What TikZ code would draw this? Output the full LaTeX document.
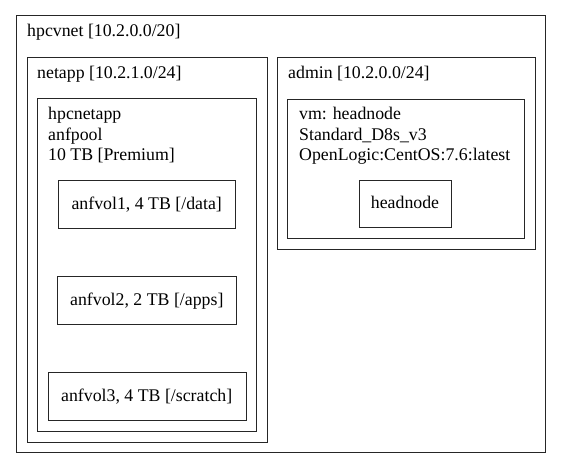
\documentclass[tikz,border=0pt]{standalone}
\usepackage{fontspec}
\setmainfont{Liberation Serif}
\begin{document}
\begin{tikzpicture}[x=1pt,y=-1pt,
  box/.style={draw=black!85,line width=1pt,rectangle,inner sep=0pt,anchor=north west},
  lbl/.style={inner sep=0pt,anchor=base west,font=\fontsize{17.8}{20.5}\selectfont,align=left},
  clbl/.style={inner sep=0pt,anchor=base,font=\fontsize{17.8}{20.5}\selectfont}]
\useasboundingbox (0,0) rectangle (561,468);
\fill[white] (0,0) rectangle (561,468);
% containers
\node[box,minimum width=529.3pt,minimum height=436.7pt] (hpcvnet) at (15.7,15) {};
\node[box,minimum width=240pt,minimum height=384.4pt] (netapp) at (26.7,57.3) {};
\node[box,minimum width=219.3pt,minimum height=332.7pt] (pool) at (36.7,98.3) {};
\node[box,minimum width=257.7pt,minimum height=192.3pt] (admin) at (277.3,56.7) {};
\node[box,minimum width=236.7pt,minimum height=139.3pt] (vm) at (287.3,99) {};
% leaf boxes
\node[box,minimum width=176.7pt,minimum height=47.7pt] (vol1) at (58.3,180) {};
\node[box,minimum width=179pt,minimum height=48.3pt] (vol2) at (57.3,275.7) {};
\node[box,minimum width=198pt,minimum height=48.3pt] (vol3) at (47.7,371.7) {};
\node[box,minimum width=91.4pt,minimum height=47.3pt] (head) at (359.3,180) {};
% labels
\node[lbl] (thpcvnet) at (27,37) {hpcvnet [10.2.0.0/20]};
\node[lbl] (tnetapp) at (37,79) {netapp [10.2.1.0/24]};
\node[lbl] (tpool1) at (48,119.5) {hpcnetapp};
\node[lbl] (tpool2) at (48,140) {anfpool};
\node[lbl] (tpool3) at (48,160.5) {10 TB [Premium]};
\node[lbl] (tadmin) at (288,79) {admin [10.2.0.0/24]};
\node[lbl] (tvm1) at (299,119.5) {vm: headnode};
\node[lbl] (tvm2) at (299,140) {Standard\_D8s\_v3};
\node[lbl] (tvm3) at (299,160.5) {OpenLogic:CentOS:7.6:latest};
\node[clbl] (tvol1) at (146.7,209) {anfvol1, 4 TB [/data]};
\node[clbl] (tvol2) at (146.8,305) {anfvol2, 2 TB [/apps]};
\node[clbl] (tvol3) at (146.7,401) {anfvol3, 4 TB [/scratch]};
\node[clbl] (thead) at (405,208.7) {headnode};
\end{tikzpicture}
\end{document}
